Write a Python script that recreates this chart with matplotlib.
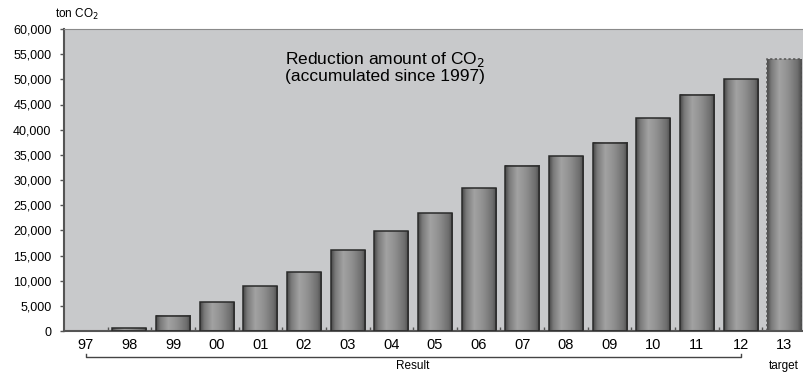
import numpy as np
import matplotlib
matplotlib.use('Agg')
import matplotlib.pyplot as plt
from matplotlib.colors import LinearSegmentedColormap
from matplotlib.ticker import FuncFormatter

# 데이터
years = ['97', '98', '99', '00', '01', '02', '03', '04', '05', '06',
         '07', '08', '09', '10', '11', '12', '13']
values = [0, 500, 3000, 5700, 8900, 11700, 16000, 19800, 23400, 28400,
          32800, 34700, 37400, 42300, 46900, 50000, 54000]
is_target = [False] * 16 + [True]

plt.rcParams['font.family'] = ['Liberation Sans', 'DejaVu Sans']

fig = plt.figure(figsize=(8.04, 3.74), dpi=100)
ax = fig.add_axes([64 / 804, 43 / 374, 742 / 804, 302 / 374])
ax.set_facecolor('#c8c9cb')

# 원통 느낌의 그라데이션
cyl = LinearSegmentedColormap.from_list(
    'cyl', [(0, '#4a4a4a'), (0.12, '#7a7a7a'), (0.35, '#a2a2a2'),
            (0.6, '#909090'), (0.88, '#6e6e6e'), (1, '#4a4a4a')])
grad = np.linspace(0, 1, 64).reshape(1, -1)
w = 0.78
x = np.arange(len(years))
for xi, v, t in zip(x, values, is_target):
    if v <= 0:
        continue
    ax.imshow(grad, extent=[xi - w / 2, xi + w / 2, 0, v], aspect='auto',
              cmap=cyl, zorder=2, interpolation='bilinear')
    ax.bar(xi, v, width=w, facecolor='none',
           edgecolor='#555555' if t else '#2a2a2a',
           linewidth=1.1, linestyle=(0, (1.5, 1.5)) if t else '-', zorder=3)

ax.set_xlim(-0.5, len(years) - 0.5)
ax.set_ylim(0, 60000)
ax.set_yticks(range(0, 60001, 5000))
ax.yaxis.set_major_formatter(FuncFormatter(lambda v, p: f'{int(v):,}'))
ax.tick_params(axis='y', direction='out', length=3, width=1, color='#555555',
               labelsize=9, pad=6)
ax.set_xticks(np.arange(len(years)) + 0.5, minor=False)
ax.set_xticklabels([])
ax.tick_params(axis='x', direction='in', length=3, width=1, color='#555555')
for xi, lab in zip(x, years):
    ax.text(xi, -1400, lab, ha='center', va='top', fontsize=10.5)

ax.spines['right'].set_visible(False)
ax.spines['top'].set_color('#8a8a8a')
ax.spines['left'].set_color('#555555')
ax.spines['bottom'].set_color('#555555')
ax.spines['left'].set_linewidth(1.5)
ax.spines['bottom'].set_linewidth(1.5)

# 결과 괄호
yb = -5200
ax.plot([0, 0, 15, 15], [yb + 700, yb, yb, yb + 700], color='#444444',
        lw=1, clip_on=False)
ax.text(7.5, yb - 500, 'Result', ha='center', va='top', fontsize=8.5)
ax.text(16, yb - 500, 'target', ha='center', va='top', fontsize=8.5)

ax.text(6.85, 55800, 'Reduction amount of CO$_{2}$\n(accumulated since 1997)',
        ha='center', va='top', fontsize=12.5, linespacing=1.0)
fig.text(55 / 804, 1 - 14 / 374, 'ton CO$_{2}$', ha='left', va='center',
         fontsize=8.5)

plt.savefig('out.png', dpi=100)
